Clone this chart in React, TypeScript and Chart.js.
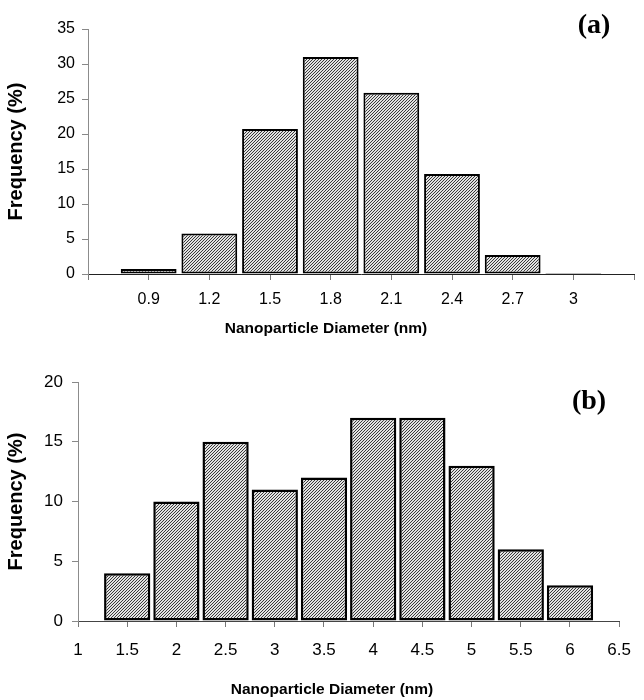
import React, { useEffect, useRef } from 'react';
import { Chart, registerables } from 'chart.js';

Chart.register(...registerables);

// ---- Data ----
const diametersA = [0.9, 1.2, 1.5, 1.8, 2.1, 2.4, 2.7, 3.0];
const frequencyA = [0.7, 5.8, 20.7, 31.0, 25.9, 14.3, 2.7, 0.15];
const xTickLabelsA = ['0.9', '1.2', '1.5', '1.8', '2.1', '2.4', '2.7', '3'];

const diametersB = [1.5, 2, 2.5, 3, 3.5, 4, 4.5, 5, 5.5, 6];
const frequencyB = [4, 10, 15, 11, 12, 17, 17, 13, 6, 3];
const xTickLabelsB = ['1', '1.5', '2', '2.5', '3', '3.5', '4', '4.5', '5', '5.5', '6', '6.5'];

const yTitle = 'Frequency (%)';
const xTitle = 'Nanoparticle Diameter (nm)';

const SANS = '"Liberation Sans", Arial, Helvetica, sans-serif';
const SERIF = '"Liberation Serif", "Times New Roman", serif';

function makeHatch(): CanvasPattern | string {
  const c = document.createElement('canvas');
  c.width = 3;
  c.height = 3;
  const g = c.getContext('2d');
  if (!g) return '#aaa';
  g.fillStyle = '#e2e2e2';
  g.fillRect(0, 0, 3, 3);
  g.fillStyle = '#3a3a3a';
  g.fillRect(0, 2, 1, 1);
  g.fillRect(1, 1, 1, 1);
  g.fillRect(2, 0, 1, 1);
  return g.createPattern(c, 'repeat') || '#aaa';
}

type TextItem = { text: string; x: number; y: number; font: string };

function textPlugin(id: string, items: TextItem[]) {
  return {
    id,
    afterDraw(chart: any) {
      const ctx = chart.ctx as CanvasRenderingContext2D;
      ctx.save();
      ctx.fillStyle = '#000';
      ctx.textAlign = 'center';
      ctx.textBaseline = 'middle';
      for (const it of items) {
        ctx.font = it.font;
        ctx.fillText(it.text, it.x, it.y);
      }
      ctx.restore();
    },
  };
}

function labelFor(labels: string[], v: number) {
  const s = String(Math.round(v * 100) / 100);
  return labels.includes(s) ? s : '';
}

function buildConfig(opts: {
  xs: number[];
  ys: number[];
  labels: string[];
  xMin: number;
  xMax: number;
  xStep: number;
  yMax: number;
  tickSize: number;
  xTickPad: number;
  yTickPad: number;
  yWidth: number;
  xHeight: number;
  pad: { top: number; right: number };
  borderWidth: number;
  barPct: number;
  xBorder: string;
  extras: TextItem[];
  pluginId: string;
}) {
  return {
    type: 'bar' as const,
    data: {
      datasets: [
        {
          data: opts.xs.map((x, i) => ({ x, y: opts.ys[i] })),
          backgroundColor: makeHatch(),
          borderColor: '#000',
          borderWidth: opts.borderWidth,
          borderSkipped: false,
          barPercentage: opts.barPct,
          categoryPercentage: 1,
        },
      ],
    },
    options: {
      animation: false,
      responsive: false,
      devicePixelRatio: 1,
      layout: { padding: { top: opts.pad.top, right: opts.pad.right, left: 0, bottom: 0 } },
      plugins: { legend: { display: false }, tooltip: { enabled: false }, title: { display: false } },
      scales: {
        x: {
          type: 'linear',
          min: opts.xMin,
          max: opts.xMax,
          offset: false,
          grid: { offset: false, drawOnChartArea: false, drawTicks: true, tickLength: 6, color: '#777' },
          border: { color: opts.xBorder, width: 1 },
          ticks: {
            stepSize: opts.xStep,
            autoSkip: false,
            maxRotation: 0,
            padding: opts.xTickPad,
            color: '#000',
            font: { family: SANS, size: opts.tickSize },
            callback: (v: any) => labelFor(opts.labels, Number(v)),
          },
          afterFit: (s: any) => {
            s.height = opts.xHeight;
          },
        },
        y: {
          min: 0,
          max: opts.yMax,
          grid: { drawOnChartArea: false, drawTicks: true, tickLength: 6, color: '#888' },
          border: { color: '#8c8c8c', width: 1 },
          ticks: {
            stepSize: 5,
            padding: opts.yTickPad,
            color: '#000',
            font: { family: SANS, size: opts.tickSize },
          },
          title: {
            display: true,
            text: yTitle,
            color: '#000',
            font: { family: SANS, size: 20, weight: 'bold' },
            padding: { top: 4, bottom: 0 },
          },
          afterFit: (s: any) => {
            s.width = opts.yWidth;
          },
        },
      },
    },
    plugins: [textPlugin(opts.pluginId, opts.extras)],
  };
}

function ChartCanvas({ config, height }: { config: () => any; height: number }) {
  const ref = useRef<HTMLCanvasElement | null>(null);
  useEffect(() => {
    if (!ref.current) return;
    const chart = new Chart(ref.current, config());
    return () => chart.destroy();
  }, []);
  return <canvas ref={ref} width={644} height={height} style={{ display: 'block', width: 644, height }} />;
}

export default function App() {
  const cfgA = () =>
    buildConfig({
      xs: diametersA,
      ys: frequencyA,
      labels: xTickLabelsA,
      xMin: 0.6,
      xMax: 3.3,
      xStep: 0.3,
      yMax: 35,
      tickSize: 16,
      xTickPad: 10,
      yTickPad: 7,
      yWidth: 88,
      xHeight: 345 - 274,
      pad: { top: 29, right: 10 },
      borderWidth: 2,
      barPct: 0.92,
      xBorder: '#222',
      pluginId: 'textA',
      extras: [
        { text: xTitle, x: 326, y: 329, font: `bold 15.5px ${SANS}` },
        { text: '(a)', x: 594, y: 26, font: `bold 28px ${SERIF}` },
      ],
    });
  const cfgB = () =>
    buildConfig({
      xs: diametersB,
      ys: frequencyB,
      labels: xTickLabelsB,
      xMin: 1,
      xMax: 6.5,
      xStep: 0.5,
      yMax: 20,
      tickSize: 17,
      xTickPad: 13,
      yTickPad: 9,
      yWidth: 78,
      xHeight: 355 - 276,
      pad: { top: 37, right: 16 },
      borderWidth: 2.5,
      barPct: 0.94,
      xBorder: '#444',
      pluginId: 'textB',
      extras: [
        { text: xTitle, x: 332, y: 345, font: `bold 15.5px ${SANS}` },
        { text: '(b)', x: 589, y: 57, font: `bold 28px ${SERIF}` },
      ],
    });
  return (
    <div style={{ width: 644, height: 700, background: '#fff' }}>
      <style>{`body{margin:0;background:#fff}`}</style>
      <ChartCanvas config={cfgA} height={345} />
      <ChartCanvas config={cfgB} height={355} />
    </div>
  );
}
